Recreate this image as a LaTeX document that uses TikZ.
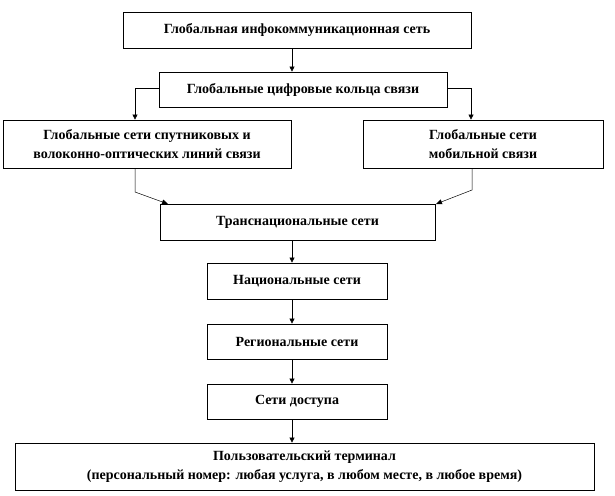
\documentclass[tikz,border=0pt]{standalone}
\usepackage{fontspec}
\setmainfont{Liberation Serif}
\usetikzlibrary{arrows.meta,shadows}
\begin{document}
\begin{tikzpicture}[x=1pt,y=-1pt,
  box/.style={draw=black,line width=0.8pt,fill=white,inner sep=0pt,align=center,
    font=\fontsize{14}{19}\selectfont\bfseries,
    drop shadow={shadow xshift=1pt,shadow yshift=-1.2pt,fill=gray!70,opacity=1}},
  conn/.style={line width=0.6pt,-{Triangle[width=5pt,length=5pt]}},
  thinconn/.style={line width=0.5pt,-{Triangle[width=5pt,length=6pt]}}]
\useasboundingbox (0,0) rectangle (615,495);
\newcommand{\bx}[6]{\node[box,minimum width=#4-#2,minimum height=#5-#3] (#1) at ({(#2+#4)/2},{(#3+#5)/2}) {#6};}
\bx{b1}{123}{12}{471}{48}{Глобальная инфокоммуникационная сеть}
\bx{b2}{159}{72}{447}{107}{Глобальные цифровые кольца связи}
\bx{bl}{3}{120}{291}{168}{Глобальные сети спутниковых и\\волоконно-оптических линий связи}
\bx{br}{363}{120}{603}{168}{Глобальные сети\\мобильной связи}
\bx{bt}{160}{204}{435}{240}{Транснациональные сети}
\bx{bn}{207}{263}{387}{299}{Национальные сети}
\bx{bg}{207}{324}{387}{359}{Региональные сети}
\bx{ba}{207}{384}{387}{419}{Сети доступа}
\bx{bu}{15}{443}{594}{490}{Пользовательский терминал\\(персональный номер: любая услуга,  в любом месте, в любое время)}
\coordinate (cx) at (292,0);
\coordinate (lx) at (135,88);
\coordinate (rx) at (471,88);
\coordinate (lb) at (135,192);
\coordinate (rb) at (472,190);
\coordinate (lt) at (168,204);
\coordinate (rt) at (436,204);
\draw[conn] (b1.south -| cx) -- (b2.north -| cx);
\draw[conn] (b2.west |- lx) -- (lx) -- (bl.north -| lx);
\draw[conn] (b2.east |- rx) -- (rx) -- (br.north -| rx);
\draw[thinconn] (bl.south -| lb) -- (lb) -- (lt);
\draw[thinconn] (br.south -| rb) -- (rb) -- (rt);
\draw[conn] (bt.south -| cx) -- (bn.north -| cx);
\draw[conn] (bn.south -| cx) -- (bg.north -| cx);
\draw[conn] (bg.south -| cx) -- (ba.north -| cx);
\draw[conn] (ba.south -| cx) -- (bu.north -| cx);
\end{tikzpicture}
\end{document}
